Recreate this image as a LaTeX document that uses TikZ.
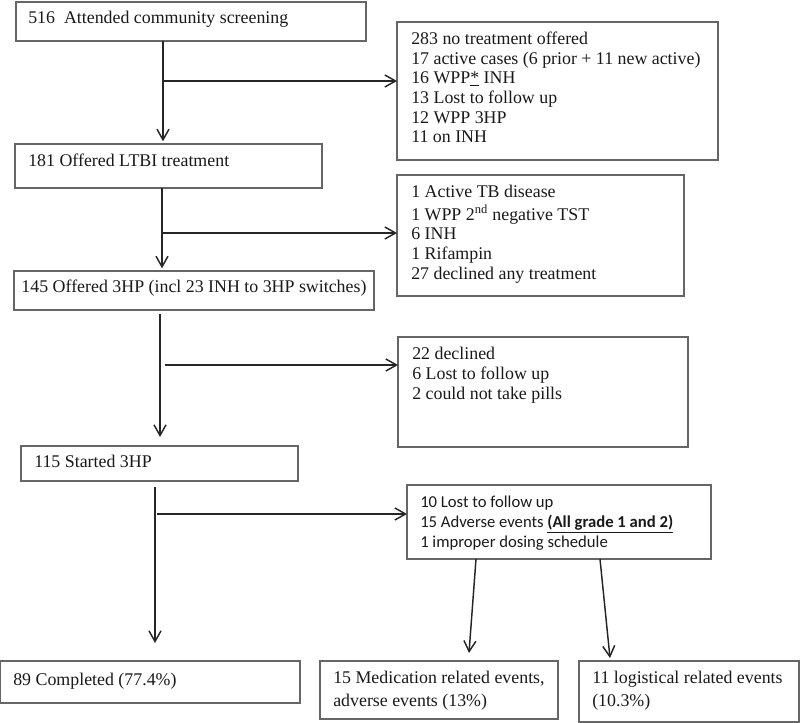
\documentclass[tikz,border=0pt]{standalone}
\usepackage{fontspec}
\setmainfont{Liberation Serif}
\newfontfamily\carlito{Carlito}
\usetikzlibrary{arrows.meta,calc}
\newcommand\bx[5]{\node[box, minimum width={(#4-#2)*0.75pt}, minimum height={(#5-#3)*0.75pt}] (#1) at (#2,#3) {};}
\begin{document}
\begin{tikzpicture}[x=0.75pt,y=-0.75pt,
  box/.style={draw=black!60, line width=0.9pt, inner sep=0pt, outer sep=0pt, anchor=north west},
  txt/.style={inner sep=0pt, text=black!90, font=\fontsize{13.4}{14.8}\selectfont, align=left},
  txtb/.style={txt, font=\fontsize{13.4}{15}\selectfont},
  txtc/.style={txt, font=\fontsize{13.4}{17.25}\selectfont},
  txtk/.style={txt, font=\carlito\fontsize{12.5}{15}\selectfont},
  arr/.style={draw=black!85, line width=1.1pt, -{Straight Barb[length=8pt,width=9pt]}}]
\useasboundingbox (0,0) rectangle (800,723);
% boxes
\bx{b1}{16}{2}{366}{41}
\bx{r1}{397}{22}{718}{160}
\bx{b2}{15}{144}{322}{188}
\bx{r2}{397}{175}{684}{296}
\bx{b3}{14}{271}{374}{310}
\bx{r3}{398}{337}{688}{447}
\bx{b4}{21}{446}{298}{481}
\bx{r4}{407}{485}{711}{559}
\bx{c1}{0}{661}{300}{703}
\bx{c2}{320}{661}{558}{719}
\bx{c3}{579}{661}{799}{722}
% texts
\node[txt, anchor=base west] (t1) at (28,24) {516\ \ Attended community screening};
\node[txt, anchor=north west] (tr1) at (411,30.2) {\strut 283 no treatment offered\\
17 active cases (6 prior + 11 new active)\\
16 WPP\underline{*} INH\\
13 Lost to follow up\\
12 WPP 3HP\\
11 on INH};
\node[txt, anchor=base west] (t2) at (28,167) {181 Offered LTBI treatment};
\node[txt, anchor=north west] (tr2) at (411,183.2) {\strut 1 Active TB disease\\
1 WPP 2\textsuperscript{nd} negative TST\\
6 INH\\
1 Rifampin\\
27 declined any treatment};
\node[txt, anchor=base] (t3) at (194,293) {145 Offered 3HP (incl 23 INH to 3HP switches)};
\node[txtb, anchor=north west] (tr3) at (412,345) {\strut 22 declined\\
6 Lost to follow up\\
2 could not take pills};
\node[txt, anchor=base west] (t4) at (34,468) {115 Started 3HP};
\node[txtk, anchor=north west] (tr4) at (420,493) {\strut 10 Lost to follow up\\
15 Adverse events \underline{\textbf{(All grade 1 and 2)}}\\
1 improper dosing schedule};
\node[txt, anchor=base west] (tc1) at (13,685) {89 Completed (77.4\%)};
\node[txtc, anchor=north west] (tc2) at (333,666.9) {\strut 15 Medication related events,\\
adverse events (13\%)};
\node[txtc, anchor=north west] (tc3) at (592,666.9) {\strut 11 logistical related events\\
(10.3\%)};
% connectors
\coordinate (k1) at (163,81);
\coordinate (k2) at (162,233);
\coordinate (k3) at (160,365);
\coordinate (k4) at (155,514);
\coordinate (d1) at (469,653);
\coordinate (d2) at (610,658);
\draw[arr, shorten >=2pt] (k1 |- b1.south) -- (k1 |- b2.north);
\draw[arr] (k1) -- (k1 -| r1.west);
\draw[arr, shorten >=2pt] (k2 |- b2.south) -- (k2 |- b3.north);
\draw[arr] (k2) -- (k2 -| r2.west);
\draw[arr, shorten >=6.75pt] ($(k3 |- b3.south)+(0,4)$) -- (k3 |- b4.north);
\draw[arr] ($(k3)+(5,0)$) -- (k3 -| r3.west);
\draw[arr, shorten >=13.5pt] ($(k4 |- b4.south)+(0,6)$) -- (k4 |- c1.north);
\draw[arr] ($(k4)+(2,0)$) -- (k4 -| r4.west);
\draw[arr] ($(r4.south west)+(69,0)$) -- (d1);
\draw[arr] ($(r4.south west)+(193,0)$) -- (d2);
\end{tikzpicture}
\end{document}
